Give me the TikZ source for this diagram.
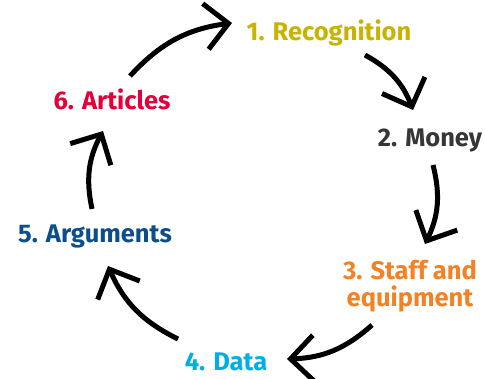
\documentclass[tikz,border=0pt]{standalone}
\usepackage{fontspec}
\setmainfont{Fira Sans}
\usetikzlibrary{arrows.meta}
\definecolor{recog}{HTML}{C8B400}
\definecolor{money}{HTML}{363636}
\definecolor{staff}{HTML}{F28224}
\definecolor{data}{HTML}{00AEE6}
\definecolor{argum}{HTML}{0C4E8C}
\definecolor{artic}{HTML}{E3003A}

\begin{document}
\begin{tikzpicture}[x=1pt,y=-1pt]
	\useasboundingbox (0,0) rectangle (485,378);
	\tikzstyle{every node}=[font=\fontsize{25.5}{27}\selectfont\bfseries, inner sep=0pt, align=center];
	\tikzstyle{cyc}=[line width=5pt, -{Straight Barb[length=23pt,width=46pt]}];
		\path (329,33) node[text=recog] (N1) {1. Recognition};
		\path (430,140) node[text=money] (N2) {2. Money};
		\path (410,286) node[text=staff] (N3) {3. Staff and\\equipment};
		\path (226,362) node[text=data] (N4) {4. Data};
		\path (95,236) node[text=argum] (N5) {5. Arguments};
		\path (112,99) node[text=artic] (N6) {6. Articles};
		% arrow ends
		\path (130,76) coordinate (a61) (232,23) coordinate (b61);
		\path (365,55) coordinate (a12) (413,110) coordinate (b12);
		\path (433,165) coordinate (a23) (425,244) coordinate (b23);
		\path (372,325) coordinate (a34) (287,359) coordinate (b34);
		\path (178,339) coordinate (a45) (108,266) coordinate (b45);
		\path (92,209) coordinate (a56) (103,131) coordinate (b56);
		\draw[cyc] (a61) to[bend left=20] (b61);
		\draw[cyc] (a12) to[bend left=20] (b12);
		\draw[cyc] (a23) to[bend left=20] (b23);
		\draw[cyc] (a34) to[bend left=20] (b34);
		\draw[cyc] (a45) to[bend left=20] (b45);
		\draw[cyc] (a56) to[bend left=20] (b56);
\end{tikzpicture}
\end{document}
